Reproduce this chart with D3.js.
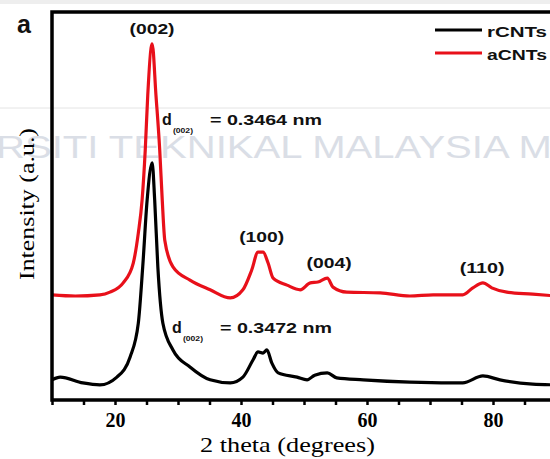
<!DOCTYPE html>
<html>
<head>
<meta charset="utf-8">
<script src="https://cdn.jsdelivr.net/npm/d3@7"></script>
<style>
  body { margin: 0; background: #fff; }
  .axis text { font-family: "Liberation Serif", serif; font-weight: bold; font-size: 20px; fill: #000; }
  .lbl { font-family: "Liberation Sans", Arial, sans-serif; font-weight: bold; fill: #111; }
</style>
</head>
<body>
<svg class="xrd"></svg>
<script>
// 2 theta (deg) and intensity (a.u.)
let rTheta = [10, 11.3, 14.9, 17.6, 20.3, 22.4, 23.7, 24.4, 25.1, 25.9, 26.3, 26.8, 27.6, 29.2, 31.9, 35.1, 38.3, 40.3, 41.9, 42.7, 43.5, 44.1, 44.9, 45.9, 48.9, 50.5, 51.7, 53.7, 55.2, 59.4, 66.8, 73.2, 75.2, 78.4, 81.1, 86.3, 90]
let rInt = [5.2, 5.9, 4.4, 3.9, 5.9, 11.1, 19.8, 34.3, 51.5, 61.1, 51.5, 34.3, 19.8, 12.9, 8.5, 5.2, 4.4, 5.9, 10.3, 12.4, 12.1, 12.9, 9.5, 7.0, 5.9, 5.2, 6.4, 7.0, 5.7, 5.2, 4.6, 4.4, 4.4, 6.2, 5.2, 4.1, 3.9]

let aTheta = [10, 13.7, 17.6, 19.2, 21.3, 22.9, 23.7, 24.3, 24.8, 25.2, 25.9, 26.5, 27.1, 27.5, 27.9, 29.2, 31.9, 35.1, 38.3, 40.3, 41.7, 42.7, 43.5, 44.3, 45.1, 47.3, 49.4, 51.0, 52.2, 53.7, 54.6, 56.8, 62.1, 66.8, 70.5, 75.2, 76.8, 78.4, 79.8, 82.2, 86.3, 90]
let aInt = [27.1, 26.8, 27.1, 27.8, 30.2, 35.3, 43.0, 51.5, 64.4, 78.6, 91.8, 78.6, 64.4, 51.5, 41.2, 34.3, 30.9, 28.4, 26.3, 28.4, 33.5, 38.1, 38.1, 35.3, 31.4, 29.6, 28.4, 30.2, 30.4, 31.4, 29.1, 27.8, 27.6, 26.8, 27.1, 27.1, 28.9, 30.2, 28.9, 27.8, 27.3, 26.8]

let xTicks = [20, 40, 60, 80]
let peakNames = ['(002)', '(100)', '(004)', '(110)']
let peakPos = [25.8, 43.2, 53.9, 78.2]
let peakLabelInt = [94.3, 40.7, 34.0, 32.7]
let seriesNames = ['rCNTs', 'aCNTs']
let seriesColors = ['#000', '#e8101a']

let width = 550, height = 459
let svg = d3.select('.xrd').attr('width', width).attr('height', height)

let x = d3.scaleLinear().domain([10, 90]).range([52, 556])
let y = d3.scaleLinear().domain([0, 100]).range([400, 12])

// bits of the scanned page behind the plot
svg.append('rect').attr('x', 0).attr('y', 0).attr('width', width).attr('height', 4).attr('fill', '#eeeeee')
svg.append('text')
  .attr('x', -4).attr('y', 158)
  .attr('font-family', 'Liberation Sans, Arial, sans-serif')
  .attr('font-size', 32)
  .attr('textLength', 556).attr('lengthAdjust', 'spacingAndGlyphs')
  .attr('fill', '#dadee6')
  .text('RSITI TEKNIKAL MALAYSIA M')
svg.append('line').attr('x1', 0).attr('x2', width).attr('y1', 108).attr('y2', 108)
  .attr('stroke', '#e4e4e4').attr('stroke-width', 1)

let line = d3.line().x(d => x(d[0])).y(d => y(d[1])).curve(d3.curveMonotoneX)

svg.append('path')
  .datum(aTheta.map((t, i) => [t, aInt[i]]))
  .attr('d', line)
  .attr('fill', 'none').attr('stroke', seriesColors[1]).attr('stroke-width', 3.2)

svg.append('path')
  .datum(rTheta.map((t, i) => [t, rInt[i]]))
  .attr('d', line)
  .attr('fill', 'none').attr('stroke', seriesColors[0]).attr('stroke-width', 3.2)

// frame
svg.append('path')
  .attr('d', `M${width},${y(100)}H${x(10)}V${y(0)}H${width}`)
  .attr('fill', 'none').attr('stroke', '#000').attr('stroke-width', 3.5)

let xAxis = svg.append('g').attr('class', 'axis')
  .attr('transform', 'translate(0,' + y(0) + ')')
  .call(d3.axisBottom(x).tickValues(d3.range(10, 91, 5)).tickSize(5).tickFormat(d => xTicks.includes(d) ? d : ''))
xAxis.select('.domain').remove()
xAxis.selectAll('line').attr('stroke-width', 2.5)
xAxis.selectAll('text').attr('y', 27).attr('dy', 0)

svg.append('text')
  .attr('x', 200).attr('y', 452)
  .attr('font-family', 'Liberation Serif, serif')
  .attr('font-size', 22)
  .attr('textLength', 175).attr('lengthAdjust', 'spacingAndGlyphs')
  .text('2 theta (degrees)')

svg.append('text')
  .attr('transform', 'translate(34,280) rotate(-90)')
  .attr('font-family', 'Liberation Serif, serif')
  .attr('font-size', 20)
  .attr('textLength', 152).attr('lengthAdjust', 'spacingAndGlyphs')
  .text('Intensity (a.u.)')

svg.append('text').attr('class', 'lbl')
  .attr('x', 17).attr('y', 33).attr('font-size', 25).text('a')

// peak labels
svg.selectAll('.peak')
  .data(peakNames)
  .enter()
  .append('text')
  .attr('class', 'lbl')
  .attr('x', (d, i) => x(peakPos[i]) - 22)
  .attr('y', (d, i) => y(peakLabelInt[i]))
  .attr('font-size', 15)
  .attr('textLength', 45).attr('lengthAdjust', 'spacingAndGlyphs')
  .text(d => d)

// d-spacing notes
function dNote(px, py, val, len, bold) {
  svg.append('text').attr('class', 'lbl').attr('x', px).attr('y', py).attr('font-size', 16).text('d')
  svg.append('text').attr('class', 'lbl').attr('x', px + 11).attr('y', py + 8).attr('font-size', 8)
    .attr('textLength', 20).attr('lengthAdjust', 'spacingAndGlyphs').text('(002)')
  svg.append('text').attr('class', 'lbl').attr('x', px + 48).attr('y', py).attr('font-size', 15)
    .attr('font-weight', bold ? 'bold' : 'normal')
    .attr('textLength', len).attr('lengthAdjust', 'spacingAndGlyphs')
    .text('= ' + val + ' nm')
}
dNote(162, 125, '0.3464', 112, false)
dNote(172, 333, '0.3472', 112, true)

// legend
seriesNames.forEach((name, i) => {
  svg.append('line')
    .attr('x1', 435).attr('x2', 482)
    .attr('y1', 30 + i * 23).attr('y2', 30 + i * 23)
    .attr('stroke', seriesColors[i]).attr('stroke-width', 3)
  svg.append('text').attr('class', 'lbl')
    .attr('x', 487).attr('y', 37 + i * 23)
    .attr('font-size', 15)
    .attr('textLength', 60).attr('lengthAdjust', 'spacingAndGlyphs')
    .text(name)
})
</script>
</body>
</html>
